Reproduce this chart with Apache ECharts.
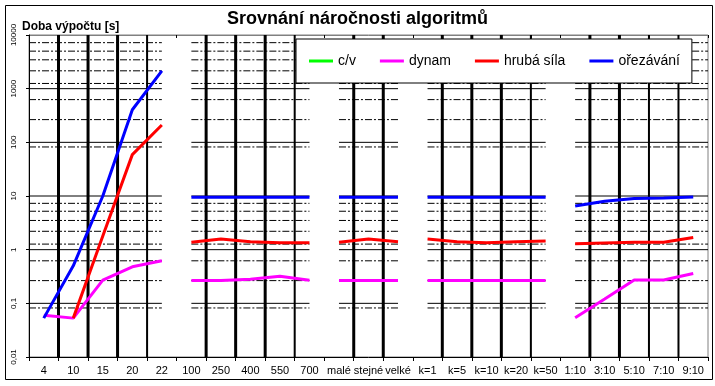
<!DOCTYPE html>
<html><head><meta charset="utf-8">
<script src="https://cdn.jsdelivr.net/npm/echarts@6/dist/echarts.min.js"></script>
<style>html,body{margin:0;padding:0;background:#fff}#c{width:715px;height:386px}</style>
</head><body><div id="c"></div>
<script>
// ---- data ----
const categories = ['4','10','15','20','22','100','250','400','550','700','malé','stejné','velké','k=1','k=5','k=10','k=20','k=50','1:10','3:10','5:10','7:10','9:10'];
const segmentSizes = [5, 5, 3, 5, 5];
const seriesNames = ['c/v', 'dynam', 'hrubá síla', 'ořezávání'];
const cvValues = [null,null,null,null,null, null,null,null,null,null, null,null,null, null,null,null,null,null, null,null,null,null,null];
const dynamValues = [0.06,0.053,0.27,0.48,0.62, 0.265,0.265,0.28,0.32,0.27, 0.265,0.265,0.265, 0.265,0.265,0.265,0.265,0.265, 0.054,0.12,0.272,0.272,0.36];
const hrubaValues = [null,0.053,1.8,59,210, 1.37,1.58,1.41,1.35,1.35, 1.37,1.58,1.41, 1.58,1.41,1.35,1.41,1.45, 1.29,1.33,1.37,1.38,1.69];
const orezValues = [0.053,0.5,10,405,2150, 9.5,9.5,9.5,9.5,9.5, 9.5,9.5,9.5, 9.5,9.5,9.5,9.5,9.5, 6.5,8.0,9.0,9.2,9.6];
const decadeLevels = [0.1, 1, 10, 100, 1000];
const dashLevels = [0.082, 0.265, 0.62, 1.27, 2.2, 3.5, 5.2, 7.3, 82, 265, 625, 1250, 2150, 3450, 5000, 7200];
const yMin = 0.01, yMax = 10000;

// ---- helpers ----
const FONT = '"Liberation Sans", Arial, Helvetica, sans-serif';
const segments = [];
{ let s = 0; for (const n of segmentSizes) { segments.push([s, s + n - 1]); s += n; } }
const xMin = -0.5, xMax = categories.length - 0.5;
const GAP = ['-', '-'];

function seriesData(vals) {
  const d = [];
  segments.forEach(([a, b]) => {
    for (let i = a; i <= b; i++) d.push([i, vals[i] == null ? '-' : vals[i]]);
    d.push(GAP);
  });
  return d;
}
function hLines(levels) {
  const d = [];
  segments.forEach(([a, b], k) => {
    const x0 = k === 0 ? xMin : a;
    const x1 = k === segments.length - 1 ? xMax : b;
    levels.forEach(v => { d.push([x0, v], [x1, v], GAP); });
  });
  return d;
}
function vLines(thin) {
  const d = [];
  segments.forEach(([a, b], k) => {
    for (let i = a; i < b; i++) {
      const j = i - a;
      const isThin = (b - a >= 4 && j === b - a - 1) || (k === segments.length - 1 && j >= 2);
      if (isThin === thin) d.push([i + 0.5, yMin], [i + 0.5, yMax], GAP);
    }
  });
  return d;
}
const deco = (data, style) => ({
  type: 'line', xAxisIndex: 2, data, showSymbol: false, silent: true,
  connectNulls: false, animation: false, lineStyle: style, z: 1
});
const dataSeries = (name, vals, color) => ({
  name, type: 'line', xAxisIndex: 2, data: seriesData(vals), showSymbol: false,
  connectNulls: false, animation: false, color, z: 3,
  lineStyle: { color, width: 3 }
});

const chart = echarts.init(document.getElementById('c'), null, { renderer: 'canvas' });
chart.setOption({
  backgroundColor: '#fff',
  animation: false,
  title: {
    text: 'Srovnání náročnosti algoritmů', left: 'center', top: 10, padding: 0,
    textStyle: { fontFamily: FONT, fontSize: 18, fontWeight: 'bold', color: '#000' }
  },
  graphic: [
    { type: 'rect', shape: { x: 5.5, y: 5.5, width: 707, height: 374 }, style: { fill: 'none', stroke: '#000', lineWidth: 1 }, z: 0, silent: true },
    { type: 'text', left: 22, top: 21, style: { text: 'Doba výpočtu [s]', font: 'bold 12px ' + FONT, fill: '#000' }, z: 10 }
  ],
  legend: {
    data: seriesNames, left: 296, top: 39, orient: 'horizontal',
    padding: [15, 12, 15, 13], itemGap: 24, itemWidth: 24, itemHeight: 3, icon: 'rect',
    backgroundColor: '#fff', borderColor: '#000', borderWidth: 1, borderRadius: 0,
    selectedMode: false,
    textStyle: { fontFamily: FONT, fontSize: 14, color: '#000' }
  },
  grid: { left: 29, right: 7, top: 35, bottom: 29, show: true, borderColor: '#808080', borderWidth: 1, backgroundColor: '#fff' },
  xAxis: [
    {
      type: 'category', data: categories, position: 'bottom', boundaryGap: true,
      axisLine: { onZero: false, lineStyle: { color: '#000', width: 1 } },
      axisTick: { show: true, interval: 0, length: 4, lineStyle: { color: '#000' } },
      axisLabel: { interval: 0, fontFamily: FONT, fontSize: 11, color: '#000', margin: 8 },
      splitLine: { show: false }
    },
    {
      type: 'category', data: categories, position: 'top', boundaryGap: true,
      axisLine: { onZero: false, lineStyle: { color: '#808080', width: 1 } },
      axisTick: { show: true, interval: 0, inside: true, length: 3, lineStyle: { color: '#000' } },
      axisLabel: { show: false }, splitLine: { show: false }
    },
    {
      type: 'value', min: xMin, max: xMax, show: false,
      axisLine: { show: false, onZero: false }, axisTick: { show: false }, axisLabel: { show: false },
      splitLine: { show: false }, splitArea: { show: false }
    }
  ],
  yAxis: {
    type: 'log', logBase: 10, min: yMin, max: yMax, position: 'left',
    axisLine: { show: true, onZero: false, lineStyle: { color: '#000', width: 1 } },
    axisTick: { show: true, length: 3, lineStyle: { color: '#000' } },
    minorTick: { show: false }, splitLine: { show: false }, minorSplitLine: { show: false },
    axisLabel: {
      rotate: 90, fontFamily: FONT, fontSize: 8, color: '#000', margin: 11,
      formatter: v => String(+v.toPrecision(6)).replace('.', ',')
    }
  },
  series: [
    deco(hLines(dashLevels), { color: '#000', width: 1, type: [7, 2, 2, 2] }),
    deco(hLines(decadeLevels), { color: '#000', width: 1, type: 'solid' }),
    deco(vLines(false), { color: '#000', width: 3, type: 'solid' }),
    deco(vLines(true), { color: '#000', width: 2, type: 'solid' }),
    dataSeries('c/v', cvValues, '#00ff00'),
    dataSeries('dynam', dynamValues, '#ff00ff'),
    dataSeries('hrubá síla', hrubaValues, '#ff0000'),
    dataSeries('ořezávání', orezValues, '#0000ff')
  ]
});
</script></body></html>
